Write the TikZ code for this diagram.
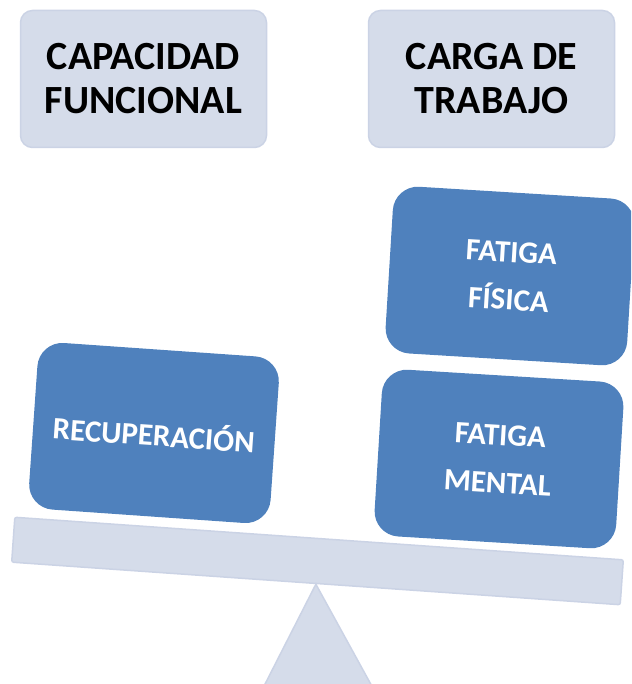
\documentclass[tikz,border=0pt]{standalone}
\usepackage{fontspec}
\setmainfont{Carlito}
\usepackage{tikz}
\usetikzlibrary{positioning}
\definecolor{platillo}{HTML}{D5DCEA}
\definecolor{borde}{HTML}{CBD3E5}
\definecolor{bloque}{HTML}{4F81BD}

\begin{document}
\begin{tikzpicture}[x=1pt,y=-1pt,
  titulo/.style={fill=platillo, draw=borde, line width=1.5pt, rounded corners=12pt,
    minimum width=246pt, minimum height=137pt, inner sep=0pt, align=center,
    font=\fontsize{40}{44}\selectfont\bfseries},
  peso/.style={fill=bloque, rounded corners=25pt, minimum width=242pt,
    minimum height=167pt, inner sep=0pt, align=center, text=white, rotate=-3.5,
    font=\fontsize{31}{48}\selectfont\bfseries},
  balanza/.style={fill=platillo, draw=borde, line width=1.5pt}]
  \clip (0,0) rectangle (631,684);

  \node [titulo] (capacidad) at (143.5,79) {CAPACIDAD\\FUNCIONAL};
  \node [titulo] (carga) at (491.5,79) {CARGA DE\\TRABAJO};

  \node [balanza, minimum width=610pt, minimum height=45pt, inner sep=0pt,
    rotate=-4, rounded corners=2pt] (viga) at (317.5,561) {};
  \draw [balanza] (viga.south) -- (262,690) -- (374,690) -- cycle;

  \node [peso, rotate=-0.5] (recup) at (154,433) {RECUPERACIÓN};
  \node [peso] (fisica) at (510,276) {FATIGA\\FÍSICA};
  \node [peso] (mental) at (499,459) {FATIGA\\MENTAL};
\end{tikzpicture}
\end{document}
